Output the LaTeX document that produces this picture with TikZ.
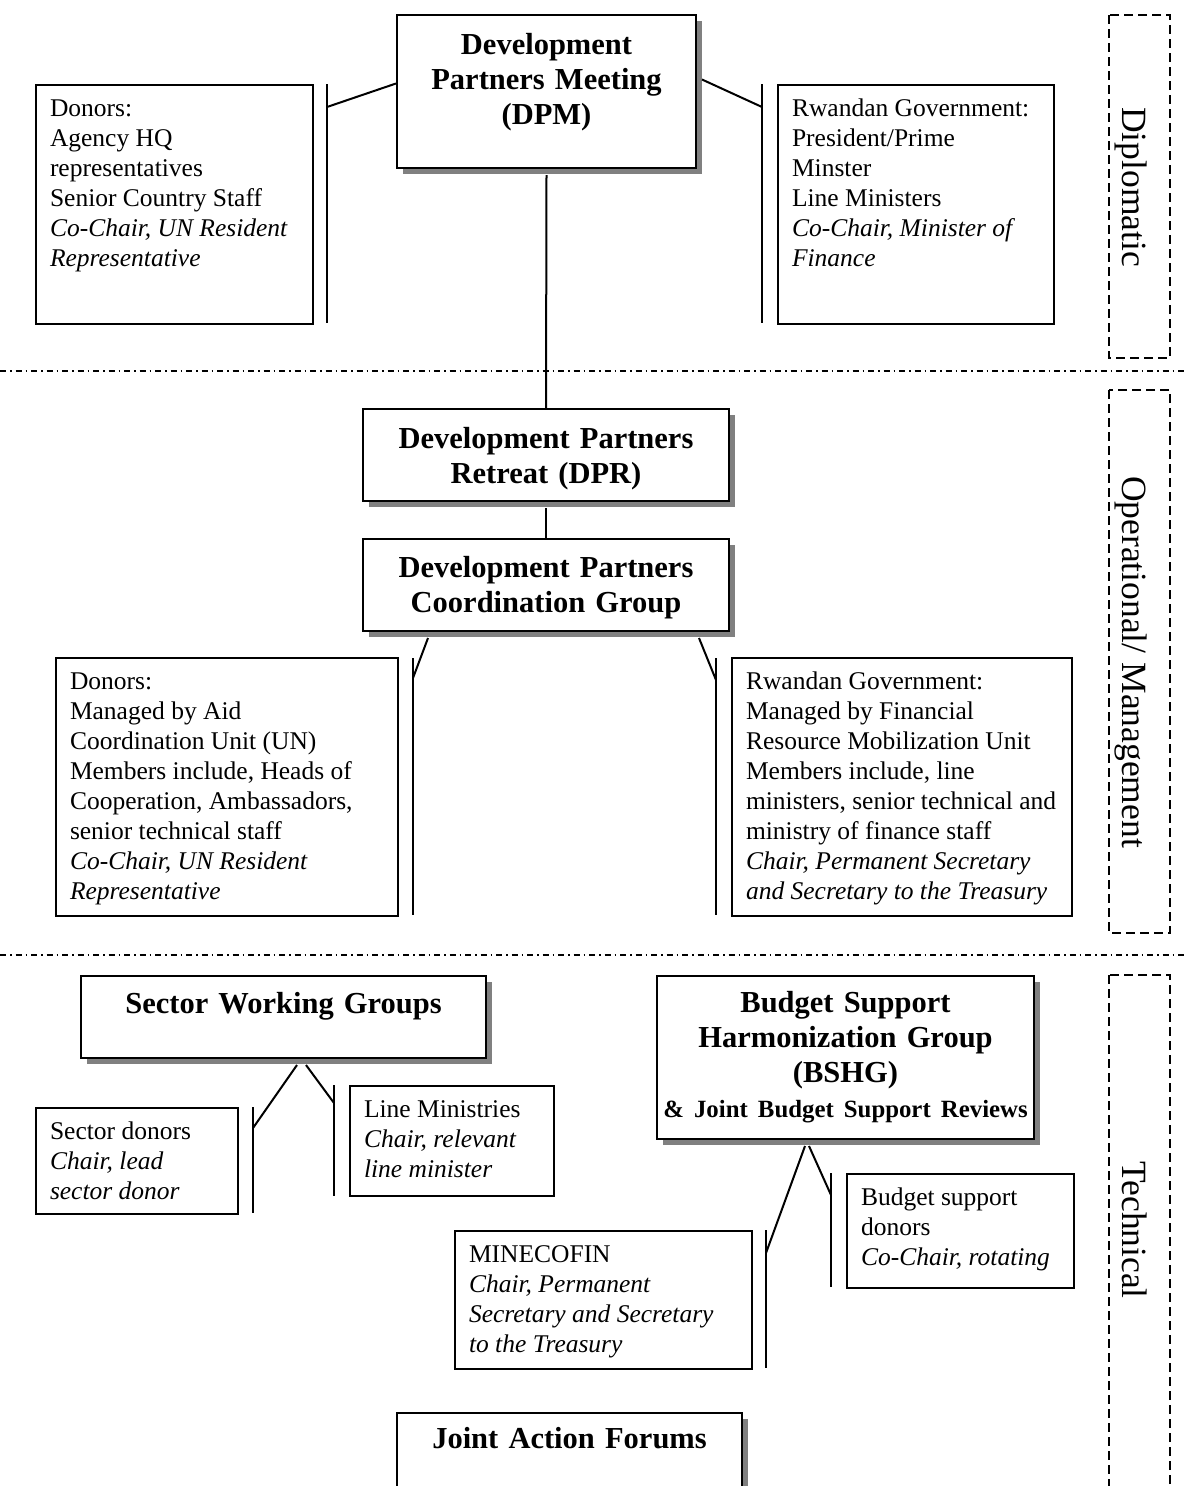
\documentclass[tikz,border=0pt]{standalone}
\usepackage{fontspec}
\setmainfont{Liberation Serif}
\usetikzlibrary{shadows,calc}

\begin{document}
\begin{tikzpicture}[x=1pt, y=-1pt,
    title/.style = {draw, fill=white, line width=2pt, anchor=north west, inner xsep=5pt, inner ysep=0pt, align=center, font=\fontsize{30.5}{35}\selectfont\bfseries, drop shadow={shadow xshift=6pt, shadow yshift=-6pt, fill=gray, opacity=1}},
    info/.style = {draw, line width=2pt, anchor=north west, inner xsep=14pt, inner ysep=0pt, align=flush left, text height=31pt, font=\fontsize{25.5}{30}\selectfont},
    bar/.style = {line width=2pt},
    layer/.style = {line width=1.3pt, dash pattern=on 9pt off 5pt},
    band/.style = {rotate=-90, anchor=base, font=\fontsize{35.5}{40}\selectfont},
    tier/.style = {line width=1.3pt, dash pattern=on 6pt off 4pt on 1.5pt off 4pt}]
        \useasboundingbox (0,0) rectangle (1188,1486);
        \clip (0,0) rectangle (1188,1486);
        %
        \draw[tier] (0,371) -- (1188,371);
        \draw[tier] (0,955) -- (1188,955);
        \draw[layer] (1109,15) rectangle (1170,358);
        \draw[layer] (1109,390) rectangle (1170,933);
        \draw[layer] (1109,975) rectangle (1170,1500);
        \node[band] (dip) at (1122,187) {Diplomatic};
        \node[band] (ops) at (1122,662) {Operational/ Management};
        \node[band] (tec) at (1122,1230) {Technical};
        %
        \node[title, text width=289pt, text height=39pt, text depth=114pt] (dpm) at (396,14) {Development\\ Partners Meeting\\ (DPM)};
        \node[info, text width=249pt, text depth=208pt] (don1) at (35,84) {Donors:\\ Agency HQ\\ representatives\\ Senior Country Staff\\ \textit{Co-Chair, UN Resident}\\ \textit{Representative}};
        \node[info, text width=248pt, text depth=208pt] (gov1) at (777,84) {Rwandan Government:\\ President/Prime\\ Minster\\ Line Ministers\\ \textit{Co-Chair, Minister of}\\ \textit{Finance}};
        %
        \node[title, text width=356pt, text height=39pt, text depth=53pt] (dpr) at (362,408) {Development Partners\\ Retreat (DPR)};
        \node[title, text width=356pt, text height=38pt, text depth=54pt] (dpcg) at (362,538) {Development Partners\\ Coordination Group};
        \node[info, text width=314pt, text depth=227pt] (don2) at (55,657) {Donors:\\ Managed by Aid\\ Coordination Unit (UN)\\ \mbox{Members include, Heads of}\\ Cooperation, Ambassadors,\\ senior technical staff\\ \textit{Co-Chair, UN Resident}\\ \textit{Representative}};
        \node[info, text width=312pt, text depth=227pt] (gov2) at (731,657) {Rwandan Government:\\ Managed by Financial\\ \mbox{Resource Mobilization Unit}\\ Members include, line\\ \mbox{ministers, senior technical and}\\ ministry of finance staff\\ \textit{Chair, Permanent Secretary}\\ \mbox{\textit{and Secretary to the Treasury}}};
        %
        \node[title, text width=395pt, text height=37pt, text depth=45pt] (swg) at (80,975) {Sector Working Groups};
        \node[info, text width=174pt, text depth=75pt] (sdon) at (35,1107) {Sector donors\\ \textit{Chair, lead}\\ \textit{sector donor}};
        \node[info, text width=176pt, text depth=79pt] (lmin) at (349,1085) {Line Ministries\\ \textit{Chair, relevant}\\ \textit{line minister}};
        \node[title, text width=367pt, text height=36pt, text depth=127pt] (bshg) at (656,975) {Budget Support\\ Harmonization Group\\ (BSHG)\\ \mbox{\fontsize{24.8}{30}\selectfont \& Joint Budget Support Reviews}};
        \node[info, text width=269pt, text depth=107pt] (mfin) at (454,1230) {MINECOFIN\\ \textit{Chair, Permanent}\\ \textit{Secretary and Secretary}\\ \textit{to the Treasury}};
        \node[info, text width=199pt, text depth=83pt] (bdon) at (846,1173) {Budget support\\ donors\\ \mbox{\textit{Co-Chair, rotating}}};
        \node[title, text width=335pt, text height=35pt, text depth=120pt] (jaf) at (396,1412) {Joint Action Forums};
        %
        \coordinate (l1t) at (327,84);   \coordinate (l1j) at (327,107);  \coordinate (l1b) at (327,323);
        \coordinate (r1t) at (762,84);   \coordinate (r1j) at (762,107);  \coordinate (r1b) at (762,323);
        \coordinate (l2t) at (413,658);  \coordinate (l2j) at (413,678);  \coordinate (l2b) at (413,915);
        \coordinate (r2t) at (716,658);  \coordinate (r2j) at (716,680);  \coordinate (r2b) at (716,915);
        \coordinate (l3t) at (253,1107); \coordinate (l3j) at (253,1128); \coordinate (l3b) at (253,1213);
        \coordinate (r3t) at (334,1085); \coordinate (r3j) at (334,1103); \coordinate (r3b) at (334,1196);
        \coordinate (l4t) at (766,1230); \coordinate (l4j) at (766,1253); \coordinate (l4b) at (766,1368);
        \coordinate (r4t) at (831,1173); \coordinate (r4j) at (831,1195); \coordinate (r4b) at (831,1287);
        %
        \draw[bar] (l1t) -- (l1b);
        \draw[bar] (r1t) -- (r1b);
        \draw[bar] ($(dpm.west)+(0,-8)$) -- (l1j);
        \draw[bar] ($(dpm.east)+(5,-12)$) -- (r1j);
        \draw[bar] ($(dpm.south)+(0,6)$) -- (dpr.north);
        \draw[bar] ($(dpr.south)+(0,6)$) -- (dpcg.north);
        \draw[bar] (l2t) -- (l2b);
        \draw[bar] (r2t) -- (r2b);
        \draw[bar] ($(dpcg.south west)+(66,6)$) -- (l2j);
        \draw[bar] ($(dpcg.south east)+(-31,6)$) -- (r2j);
        \draw[bar] (l3t) -- (l3b);
        \draw[bar] (r3t) -- (r3b);
        \draw[bar] ($(swg.south west)+(217,6)$) -- (l3j);
        \draw[bar] ($(swg.south west)+(226,6)$) -- (r3j);
        \draw[bar] (l4t) -- (l4b);
        \draw[bar] (r4t) -- (r4b);
        \draw[bar] ($(bshg.south west)+(149,6)$) -- (l4j);
        \draw[bar] ($(bshg.south west)+(153,6)$) -- (r4j);
\end{tikzpicture}
\end{document}
